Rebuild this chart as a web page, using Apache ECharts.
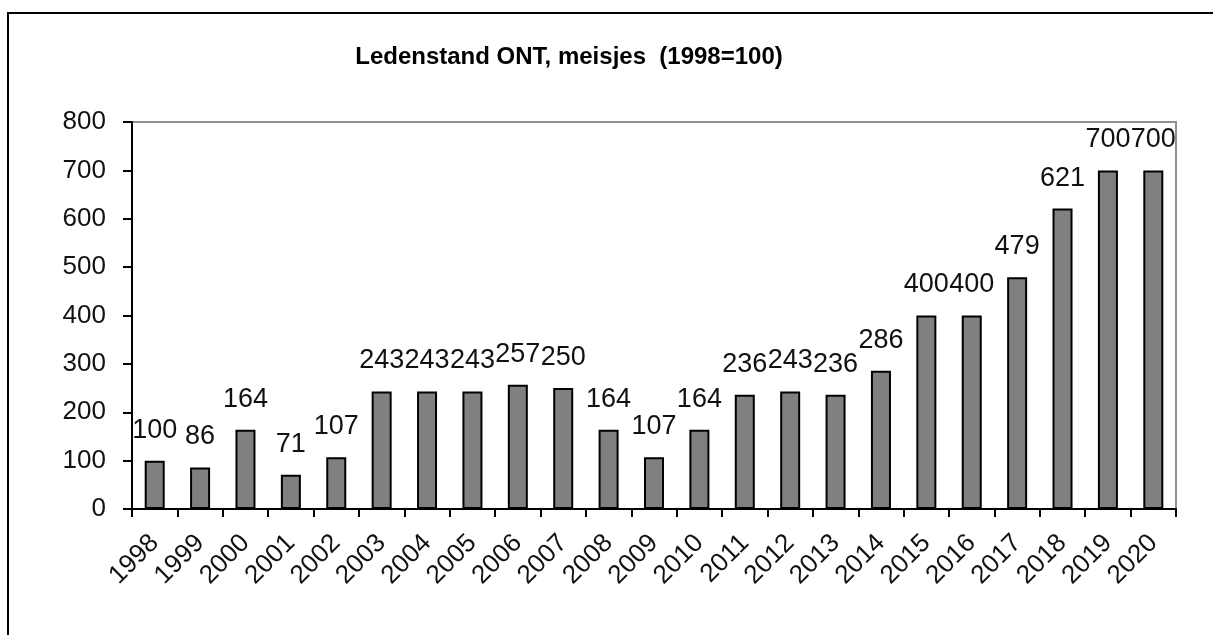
<!DOCTYPE html>
<html>
<head>
<meta charset="utf-8">
<script src="https://cdn.jsdelivr.net/npm/echarts@6/dist/echarts.min.js"></script>
<style>
html,body{margin:0;padding:0;background:#fff;}
#chart{width:1213px;height:635px;}
</style>
</head>
<body>
<div id="chart"></div>
<script>
const titleText = 'Ledenstand ONT, meisjes  (1998=100)';
const years = ['1998','1999','2000','2001','2002','2003','2004','2005','2006','2007','2008','2009','2010','2011','2012','2013','2014','2015','2016','2017','2018','2019','2020'];
const values = [100,86,164,71,107,243,243,243,257,250,164,107,164,236,243,236,286,400,400,479,621,700,700];
const yMin = 0, yMax = 800, yStep = 100;

const chart = echarts.init(document.getElementById('chart'));
const font = '"Liberation Sans", Arial, sans-serif';
chart.setOption({
  backgroundColor: '#fff',
  animation: false,
  title: {
    text: titleText,
    left: 564, top: 40, textAlign: 'center',
    textStyle: { fontFamily: font, fontSize: 24, fontWeight: 'bold', color: '#000' }
  },
  graphic: [{
    type: 'rect', shape: { x: 8, y: 13, width: 1400, height: 800 },
    style: { fill: 'none', stroke: '#000', lineWidth: 2 }, silent: true, z: 100
  }],
  grid: { left: 132, right: 37, top: 122, bottom: 126, show: true, borderColor: '#909090', borderWidth: 2 },
  xAxis: {
    type: 'category', data: years,
    axisLine: { lineStyle: { color: '#000', width: 2 } },
    axisTick: { show: true, length: 8, lineStyle: { color: '#000', width: 2 }, alignWithLabel: false },
    axisLabel: { rotate: 45, margin: 30, interval: 0, fontFamily: font, fontSize: 26, color: '#111' }
  },
  yAxis: {
    type: 'value', min: yMin, max: yMax, interval: yStep,
    splitLine: { show: false },
    axisLine: { show: true, lineStyle: { color: '#000', width: 2 } },
    axisTick: { show: true, length: 9, lineStyle: { color: '#000', width: 2 } },
    axisLabel: { margin: 26, fontFamily: font, fontSize: 26, color: '#111' }
  },
  series: [{
    type: 'bar', data: values, barWidth: 20,
    itemStyle: { color: '#808080', borderColor: '#000', borderWidth: 2 },
    label: { show: true, position: 'top', distance: 17, fontFamily: font, fontSize: 27, color: '#111' }
  }]
});
</script>
</body>
</html>
